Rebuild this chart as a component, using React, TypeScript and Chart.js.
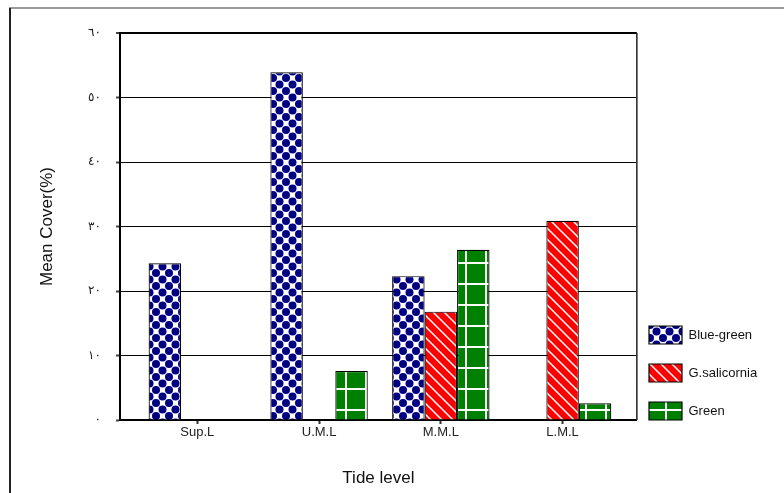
import React, { useEffect, useRef } from 'react';
import { Chart, registerables } from 'chart.js';

Chart.register(...registerables);

const categories = ['Sup.L', 'U.M.L', 'M.M.L', 'L.M.L'];
const seriesNames = ['Blue-green', 'G.salicornia', 'Green'];
const blueGreen = [24.3, 53.9, 22.3, 0];
const gSalicornia = [0, 0, 16.8, 30.9];
const green = [0, 7.6, 26.4, 2.6];
const yTickValues = [0, 10, 20, 30, 40, 50, 60];
const yTickLabels = ['٠', '١٠', '٢٠', '٣٠', '٤٠', '٥٠', '٦٠'];
const yAxisTitle = 'Mean Cover(%)';
const xAxisTitle = 'Tide level';

const FAMILY = 'Arial, "Liberation Sans", "DejaVu Sans", sans-serif';

function makePattern(
  target: CanvasRenderingContext2D,
  w: number,
  h: number,
  draw: (c: CanvasRenderingContext2D) => void
) {
  const c = document.createElement('canvas');
  c.width = w;
  c.height = h;
  const x = c.getContext('2d')!;
  draw(x);
  return target.createPattern(c, 'repeat')!;
}

const framePlugin = {
  id: 'frame',
  beforeDraw(chart: any) {
    const ctx = chart.ctx;
    ctx.save();
    ctx.fillStyle = '#fff';
    ctx.fillRect(0, 0, chart.width, chart.height);
    ctx.strokeStyle = '#9a9a9a';
    ctx.lineWidth = 2;
    ctx.beginPath();
    ctx.moveTo(9, 8);
    ctx.lineTo(chart.width, 8);
    ctx.stroke();
    ctx.strokeStyle = '#222';
    ctx.beginPath();
    ctx.moveTo(10, 8);
    ctx.lineTo(10, chart.height);
    ctx.stroke();
    ctx.restore();
  },
  afterLayout(chart: any) {
    const lg = chart.legend;
    if (lg) {
      const w = lg.width;
      const h = lg.height;
      lg.left = 629;
      lg.right = 629 + w;
      lg.top = 306;
      lg.bottom = 306 + h;
    }
  },
  beforeDatasetsDraw(chart: any) {
    const { ctx, chartArea: a } = chart;
    ctx.save();
    ctx.strokeStyle = '#222';
    ctx.lineWidth = 1.5;
    ctx.beginPath();
    ctx.moveTo(a.right, a.top);
    ctx.lineTo(a.right, a.bottom);
    ctx.stroke();
    ctx.restore();
  },
};

export default function App() {
  const ref = useRef<HTMLCanvasElement>(null);

  useEffect(() => {
    document.body.style.margin = '0';
    const canvas = ref.current!;
    const tctx = canvas.getContext('2d')!;

    const bluePat = makePattern(tctx, 13, 13, (c) => {
      c.fillStyle = '#fff';
      c.fillRect(0, 0, 13, 13);
      c.fillStyle = '#000080';
      const pts = [
        [0, 0],
        [13, 0],
        [0, 13],
        [13, 13],
        [6.5, 6.5],
      ];
      for (const [px, py] of pts) {
        c.beginPath();
        c.arc(px, py, 4.0, 0, Math.PI * 2);
        c.fill();
      }
    });

    const redPat = makePattern(tctx, 11, 11, (c) => {
      c.fillStyle = '#ff0000';
      c.fillRect(0, 0, 11, 11);
      c.strokeStyle = '#fff';
      c.lineWidth = 1.5;
      c.beginPath();
      c.moveTo(-2, -2);
      c.lineTo(13, 13);
      c.moveTo(-2, 9);
      c.lineTo(2, 13);
      c.moveTo(9, -2);
      c.lineTo(13, 2);
      c.stroke();
    });

    const greenPat = makePattern(tctx, 20, 21, (c) => {
      c.fillStyle = '#008000';
      c.fillRect(0, 0, 20, 21);
      c.fillStyle = '#fff';
      c.fillRect(5, 0, 2, 21);
      c.fillRect(0, 10, 20, 2);
    });

    const toPts = (arr: number[]) => arr.map((v, i) => ({ x: i, y: v }));

    const chart = new Chart(canvas, {
      type: 'bar',
      data: {
        datasets: [
          {
            label: seriesNames[0],
            data: toPts(blueGreen),
            backgroundColor: bluePat,
            borderColor: '#000',
            borderWidth: 1.2,
          },
          {
            label: seriesNames[1],
            data: toPts(gSalicornia),
            backgroundColor: redPat,
            borderColor: '#000',
            borderWidth: 1.2,
          },
          {
            label: seriesNames[2],
            data: toPts(green),
            backgroundColor: greenPat,
            borderColor: '#000',
            borderWidth: 1.2,
          },
        ],
      },
      options: {
        animation: false,
        responsive: false,
        events: [],
        layout: { padding: { top: 33, right: 9, bottom: 0, left: 0 } },
        datasets: { bar: { categoryPercentage: 0.8, barPercentage: 1 } },
        scales: {
          x: {
            type: 'linear',
            min: -0.635,
            max: 3.61,
            offset: false,
            afterBuildTicks: (s: any) => {
              s.ticks = categories.map((_, i) => ({ value: i }));
            },
            afterFit: (s: any) => {
              s.height = 73;
            },
            ticks: {
              autoSkip: false,
              maxRotation: 0,
              padding: 1,
              color: '#222',
              font: { size: 13, family: FAMILY },
              callback: (v: any) => categories[v as number] ?? '',
            },
            grid: {
              display: true,
              offset: false,
              drawOnChartArea: false,
              drawTicks: true,
              tickLength: 4,
              tickColor: '#333',
              tickWidth: 2,
            },
            border: { display: true, color: '#000', width: 2 },
            title: {
              display: true,
              text: xAxisTitle,
              color: '#111',
              font: { size: 17, family: FAMILY },
              padding: { top: 0, bottom: 4 },
            },
          },
          y: {
            min: 0,
            max: 60,
            afterBuildTicks: (s: any) => {
              s.ticks = yTickValues.map((v) => ({ value: v }));
            },
            afterFit: (s: any) => {
              s.width = 120;
            },
            ticks: {
              padding: 15,
              color: '#222',
              font: { size: 12, family: FAMILY },
              callback: (v: any) => yTickLabels[yTickValues.indexOf(v as number)] ?? '',
            },
            grid: {
              color: '#000',
              lineWidth: (c: any) => (c.tick && c.tick.value === 60 ? 2 : 1),
              drawTicks: true,
              tickLength: 4,
              tickColor: '#444',
              tickWidth: 2,
            },
            border: { display: true, color: '#000', width: 2 },
            title: {
              display: true,
              text: yAxisTitle,
              color: '#111',
              font: { size: 17, family: FAMILY },
              padding: { top: 37, bottom: 0 },
            },
          },
        },
        plugins: {
          legend: {
            position: 'right',
            align: 'start',
            labels: {
              boxWidth: 33,
              boxHeight: 18,
              padding: 20,
              color: '#111',
              font: { size: 13, family: FAMILY },
            },
          },
          tooltip: { enabled: false },
        },
      } as any,
      plugins: [framePlugin],
    });

    return () => chart.destroy();
  }, []);

  return (
    <div style={{ position: 'absolute', left: 0, top: 0, width: 784, height: 493 }}>
      <canvas ref={ref} width={784} height={493} style={{ display: 'block', width: 784, height: 493 }} />
    </div>
  );
}
